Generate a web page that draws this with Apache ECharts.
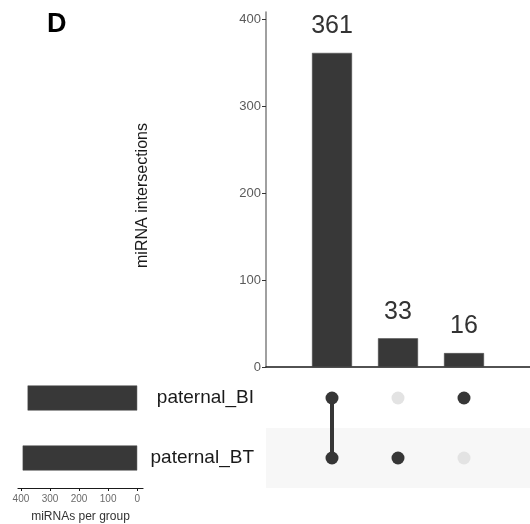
<!DOCTYPE html>
<html>
<head>
<meta charset="utf-8">
<script src="https://cdn.jsdelivr.net/npm/echarts@6/dist/echarts.min.js"></script>
<style>html,body{margin:0;padding:0;background:#fff}#c{width:530px;height:524px}</style>
</head>
<body>
<div id="c"></div>
<script>
// ---- data ----
const sets = ['paternal_BT', 'paternal_BI'];          // bottom -> top
const setSizes = [394, 377];
const intersections = ['paternal_BI & paternal_BT', 'paternal_BT', 'paternal_BI'];
const intersectionCounts = [361, 33, 16];
const membership = [            // per intersection: membership in [paternal_BT, paternal_BI]
  [1, 1],
  [1, 0],
  [0, 1]
];
const topTicks = [0, 100, 200, 300, 400];
const sideTicks = [0, 100, 200, 300, 400];

// ---- build ----
const FONT = 'Liberation Sans, Arial, sans-serif';
const DARK = '#363636';
const barData = intersectionCounts.map((v, i) => [i + 1, v]);
const activeDots = [], inactiveDots = [];
membership.forEach((m, i) => {
  m.forEach((on, s) => {
    (on ? activeDots : inactiveDots).push([i + 1, sets[s]]);
  });
});
const lineSeries = [];
membership.forEach((m, i) => {
  const pts = [];
  m.forEach((on, s) => { if (on) pts.push([i + 1, sets[s]]); });
  if (pts.length > 1) {
    lineSeries.push({
      type: 'line', xAxisIndex: 1, yAxisIndex: 1, data: pts,
      symbol: 'none', lineStyle: { color: DARK, width: 4 }, silent: true, z: 2
    });
  }
});

const chart = echarts.init(document.getElementById('c'), null, { renderer: 'canvas' });
chart.setOption({
  animation: false,
  backgroundColor: '#fff',
  textStyle: { fontFamily: FONT },
  title: {
    text: 'D', left: 42, top: 6,
    textStyle: { fontSize: 27, fontWeight: 'bold', color: '#000', fontFamily: FONT }
  },
  grid: [
    { left: 266, top: 12, width: 268, height: 355 },
    { left: 266, top: 368, width: 268, height: 120 },
    { left: 18, top: 368, width: 125, height: 120 }
  ],
  xAxis: [
    { type: 'value', gridIndex: 0, min: 0, max: 4,
      axisLine: { show: true, lineStyle: { color: '#1a1a1a', width: 1.5 } },
      axisTick: { show: false }, axisLabel: { show: false }, splitLine: { show: false } },
    { type: 'value', gridIndex: 1, min: 0, max: 4,
      axisLine: { show: false }, axisTick: { show: false }, axisLabel: { show: false }, splitLine: { show: false } },
    { type: 'value', gridIndex: 2, min: -20, max: 410, inverse: true,
      axisLine: { show: true, lineStyle: { color: '#1a1a1a', width: 1.2 } },
      axisTick: { show: true, length: 3, customValues: sideTicks, lineStyle: { color: '#1a1a1a' } },
      axisLabel: { show: true, customValues: sideTicks, fontSize: 10, color: '#6a6a6a', margin: 6, fontFamily: FONT },
      splitLine: { show: false },
      name: 'miRNAs per group', nameLocation: 'middle', nameGap: 23,
      nameTextStyle: { fontSize: 12, color: '#333', fontFamily: FONT } }
  ],
  yAxis: [
    { type: 'value', gridIndex: 0, min: 0, max: 408,
      axisLine: { show: true, lineStyle: { color: '#808080', width: 1.5 } },
      axisTick: { show: true, length: 4, customValues: topTicks, lineStyle: { color: '#333' } },
      axisLabel: { show: true, customValues: topTicks, fontSize: 13, color: '#5a5a5a', margin: 5, fontFamily: FONT },
      splitLine: { show: false },
      name: 'miRNA intersections', nameLocation: 'middle', nameGap: 115,
      nameTextStyle: { fontSize: 16, color: '#1a1a1a', fontFamily: FONT, padding: [0, 0, 0, -12] } },
    { type: 'category', gridIndex: 1, data: sets,
      axisLine: { show: false }, axisTick: { show: false },
      axisLabel: { show: true, fontSize: 19, color: '#1a1a1a', margin: 12, fontFamily: FONT },
      splitLine: { show: false },
      splitArea: { show: true, areaStyle: { color: ['#f7f7f7', '#ffffff'] } } },
    { type: 'category', gridIndex: 2, data: sets,
      axisLine: { show: false }, axisTick: { show: false }, axisLabel: { show: false } }
  ],
  series: [
    { type: 'bar', xAxisIndex: 0, yAxisIndex: 0, data: barData, barWidth: 40,
      itemStyle: { color: '#383838', borderColor: '#4a4a4a', borderWidth: 0.5 },
      label: { show: true, position: 'top', distance: 14, fontSize: 25, color: '#333', fontFamily: FONT } },
    { type: 'scatter', xAxisIndex: 1, yAxisIndex: 1, data: inactiveDots, symbolSize: 13,
      itemStyle: { color: '#e3e3e3', opacity: 1 }, z: 1 },
    ...lineSeries,
    { type: 'scatter', xAxisIndex: 1, yAxisIndex: 1, data: activeDots, symbolSize: 13,
      itemStyle: { color: DARK, opacity: 1 }, z: 3 },
    { type: 'bar', xAxisIndex: 2, yAxisIndex: 2, data: setSizes, barWidth: 25,
      itemStyle: { color: '#383838', borderColor: '#4a4a4a', borderWidth: 0.5 } }
  ]
});
</script>
</body>
</html>
